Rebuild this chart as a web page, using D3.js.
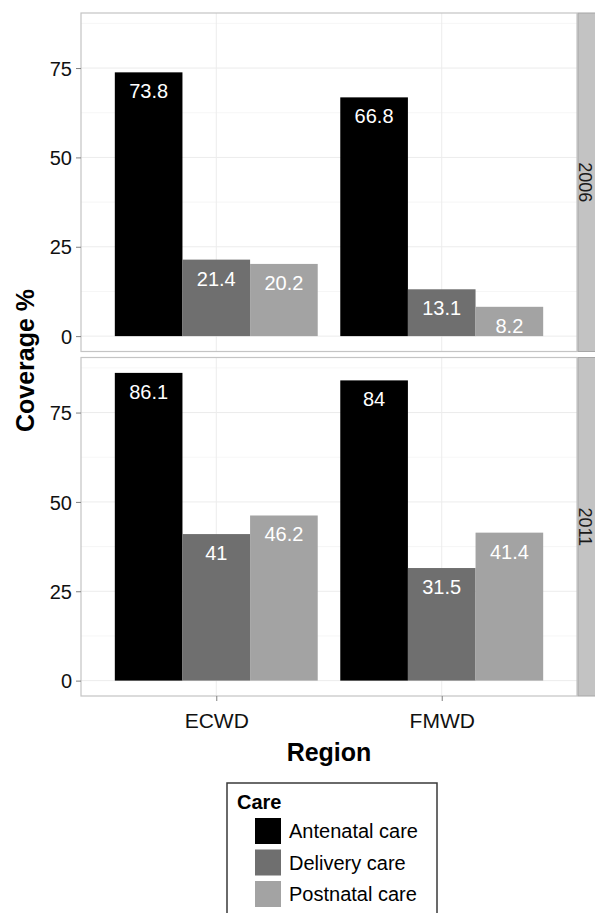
<!DOCTYPE html>
<html>
<head>
<meta charset="utf-8">
<script src="https://cdn.jsdelivr.net/npm/d3@7"></script>
<style>
  body { margin: 0; background: #fff; }
  svg text { font-family: "Liberation Sans", Arial, sans-serif; }
</style>
</head>
<body>
<div id="chart"></div>
<script>
// Coverage by region, facetted by survey year
const regions = ['ECWD', 'FMWD'];
const years = ['2006', '2011'];
const careTypes = ['Antenatal care', 'Delivery care', 'Postnatal care'];
// each indexed [year][region]
const antenatal = [[73.8, 66.8], [86.1, 84]];
const delivery = [[21.4, 13.1], [41, 31.5]];
const postnatal = [[20.2, 8.2], [46.2, 41.4]];
const yTicks = [0, 25, 50, 75];
const yMinor = [12.5, 37.5, 62.5, 87.5];

const colors = ['#000000', '#6f6f6f', '#a3a3a3'];
const series = [antenatal, delivery, postnatal];

const width = 595, height = 913;
const panelLeft = 81, panelRight = 577;
const panels = [{ top: 13, bottom: 351.5 }, { top: 357.5, bottom: 696 }];

const svg = d3.select('#chart').append('svg')
    .attr('width', width)
    .attr('height', height);

const x = d3.scalePoint()
    .domain(regions)
    .range([panelLeft, panelRight])
    .padding(0.6);
const step = x.step();
const xInner = d3.scaleBand()
    .domain(careTypes)
    .range([-0.45 * step, 0.45 * step]);

// shared y domain with ggplot-like 5% expansion
const yMax = d3.max(series.flat(2));
const pad = yMax * 0.05;

years.forEach((year, yi) => {
    const p = panels[yi];
    const y = d3.scaleLinear()
        .domain([-pad, yMax + pad])
        .range([p.bottom, p.top]);

    const g = svg.append('g');

    // panel background
    g.append('rect')
        .attr('x', panelLeft).attr('y', p.top)
        .attr('width', panelRight - panelLeft).attr('height', p.bottom - p.top)
        .attr('fill', '#fff');

    // grid
    g.selectAll('.minor')
        .data(yMinor.filter(v => y(v) > p.top))
        .enter().append('line')
        .attr('x1', panelLeft).attr('x2', panelRight)
        .attr('y1', d => y(d)).attr('y2', d => y(d))
        .attr('stroke', '#f4f4f4').attr('stroke-width', 0.8);
    g.selectAll('.major')
        .data(yTicks)
        .enter().append('line')
        .attr('x1', panelLeft).attr('x2', panelRight)
        .attr('y1', d => y(d)).attr('y2', d => y(d))
        .attr('stroke', '#ececec').attr('stroke-width', 1);
    g.selectAll('.vgrid')
        .data(regions)
        .enter().append('line')
        .attr('x1', d => x(d)).attr('x2', d => x(d))
        .attr('y1', p.top).attr('y2', p.bottom)
        .attr('stroke', '#ececec').attr('stroke-width', 1);

    // bars
    const data = [];
    regions.forEach((r, ri) => {
        careTypes.forEach((c, ci) => {
            data.push({ region: r, care: c, value: series[ci][yi][ri], color: colors[ci] });
        });
    });

    g.selectAll('.bar')
        .data(data)
        .enter().append('rect')
        .attr('x', d => x(d.region) + xInner(d.care))
        .attr('width', xInner.bandwidth())
        .attr('y', d => y(d.value))
        .attr('height', d => y(0) - y(d.value))
        .attr('fill', d => d.color);

    g.selectAll('.lbl')
        .data(data)
        .enter().append('text')
        .attr('x', d => x(d.region) + xInner(d.care) + xInner.bandwidth() / 2)
        .attr('y', d => y(d.value) + 26)
        .attr('text-anchor', 'middle')
        .attr('fill', '#fff')
        .style('font-size', '20px')
        .text(d => d.value);

    // panel border
    g.append('rect')
        .attr('x', panelLeft).attr('y', p.top)
        .attr('width', panelRight - panelLeft).attr('height', p.bottom - p.top)
        .attr('fill', 'none')
        .attr('stroke', '#c4c4c4').attr('stroke-width', 1.2);

    // y axis
    const yAxis = g.append('g')
        .attr('transform', `translate(${panelLeft},0)`)
        .call(d3.axisLeft(y).tickValues(yTicks).tickSize(5).tickPadding(4));
    yAxis.select('.domain').remove();
    yAxis.selectAll('line').attr('stroke', '#7f7f7f');
    yAxis.selectAll('text')
        .attr('fill', '#111')
        .style('font-size', '20px')
        .attr('dy', '0.36em');

    // facet strip
    const strip = g.append('g');
    strip.append('rect')
        .attr('x', panelRight + 1).attr('y', p.top)
        .attr('width', 24).attr('height', p.bottom - p.top)
        .attr('fill', '#c3c3c3')
        .attr('stroke', '#a6a6a6').attr('stroke-width', 1);
    strip.append('text')
        .attr('transform', `translate(${panelRight + 2},${(p.top + p.bottom) / 2}) rotate(90)`)
        .attr('text-anchor', 'middle')
        .attr('fill', '#1a1a1a')
        .style('font-size', '18px')
        .text(year);
});

// x axis under bottom panel
const last = panels[panels.length - 1];
const xAxis = svg.append('g')
    .attr('transform', `translate(0,${last.bottom})`)
    .call(d3.axisBottom(x).tickSize(5).tickPadding(12));
xAxis.select('.domain').remove();
xAxis.selectAll('line').attr('stroke', '#7f7f7f');
xAxis.selectAll('text')
    .attr('fill', '#111')
    .style('font-size', '21px');

// axis titles
svg.append('text')
    .attr('x', (panelLeft + panelRight) / 2)
    .attr('y', 761)
    .attr('text-anchor', 'middle')
    .style('font-size', '25px')
    .style('font-weight', 'bold')
    .text('Region');

svg.append('text')
    .attr('transform', `translate(34,${(panels[0].top + last.bottom) / 2 + 6}) rotate(-90)`)
    .attr('text-anchor', 'middle')
    .style('font-size', '25px')
    .style('font-weight', 'bold')
    .text('Coverage %');

// legend
const legend = svg.append('g').attr('transform', 'translate(227,783)');
legend.append('rect')
    .attr('x', 0).attr('y', 0)
    .attr('width', 210).attr('height', 140)
    .attr('fill', '#fff')
    .attr('stroke', '#3a3a3a').attr('stroke-width', 1.5);
legend.append('text')
    .attr('x', 10).attr('y', 26)
    .style('font-size', '20px')
    .style('font-weight', 'bold')
    .text('Care');
const items = legend.selectAll('.item')
    .data(careTypes)
    .enter().append('g')
    .attr('transform', (d, i) => `translate(28,${35 + i * 31.5})`);
items.append('rect')
    .attr('width', 26).attr('height', 26)
    .attr('fill', (d, i) => colors[i]);
items.append('text')
    .attr('x', 34).attr('y', 20)
    .style('font-size', '20px')
    .text(d => d);
</script>
</body>
</html>
